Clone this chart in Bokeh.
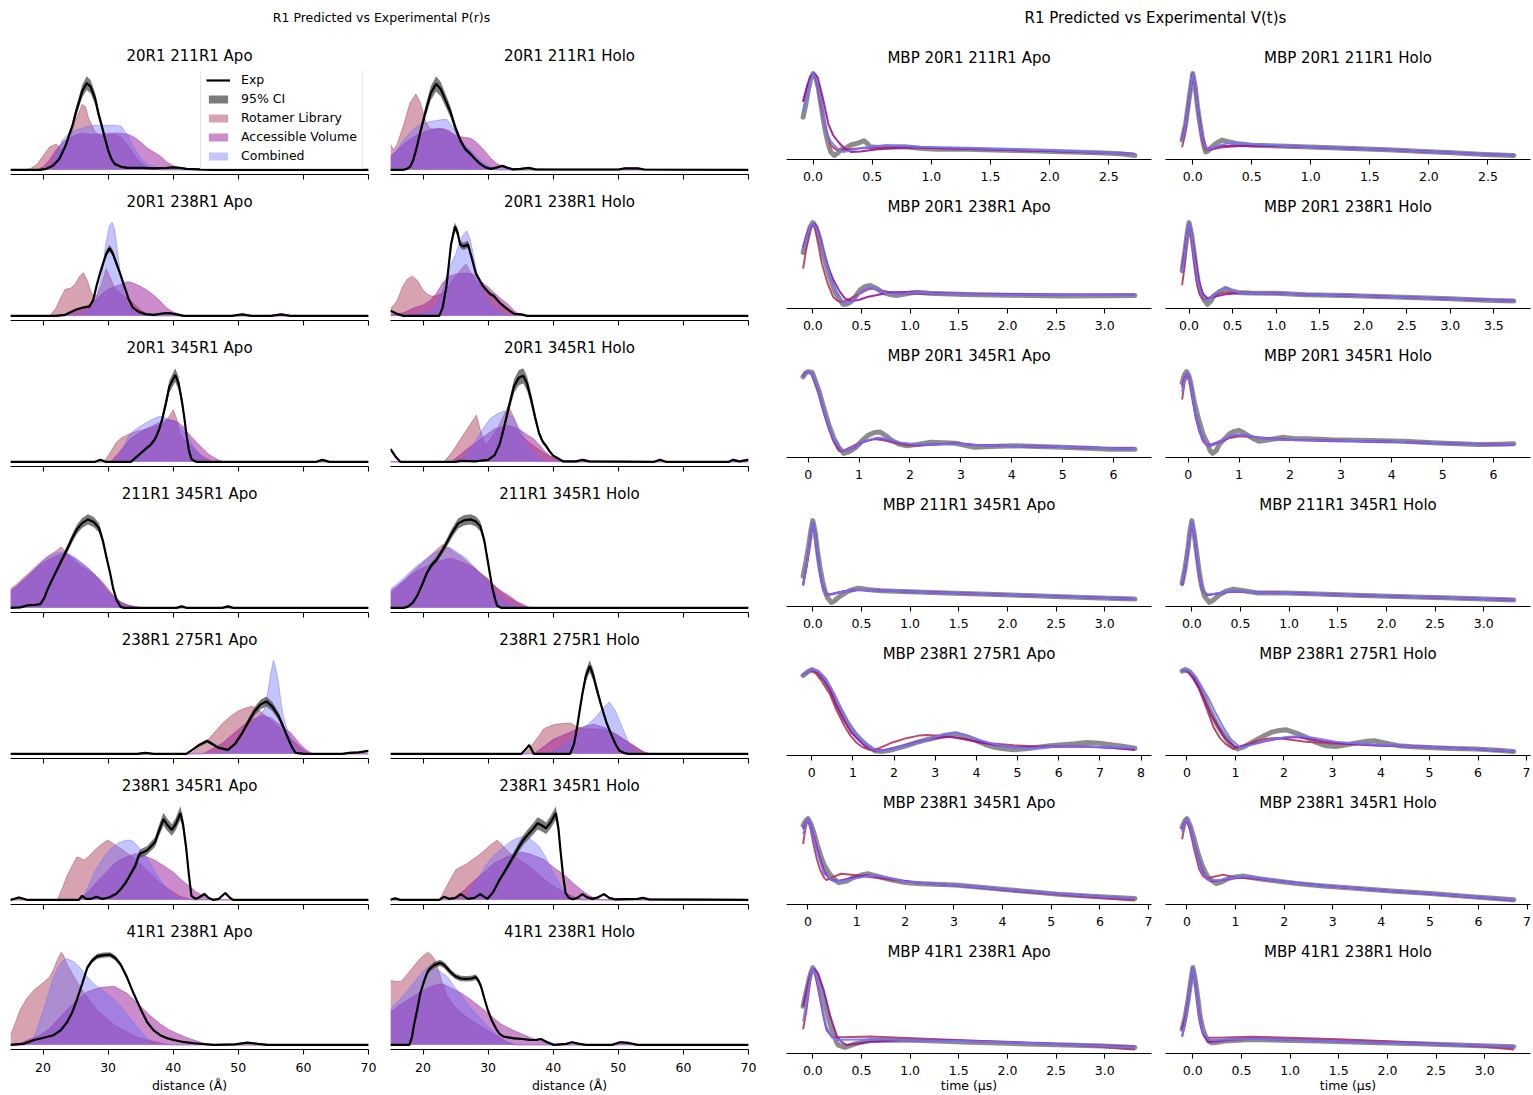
from bokeh.plotting import figure
from bokeh.layouts import row, column
from bokeh.models import Range1d, SingleIntervalTicker, PrintfTickFormatter, Legend, LegendItem
from bokeh.embed import file_html
from bokeh.resources import INLINE
from bokeh.core.properties import value

FONT = "DejaVu Sans"

# ---------------------------------------------------------------- titles / ticks
pr_titles = ["20R1 211R1 Apo", "20R1 211R1 Holo", "20R1 238R1 Apo", "20R1 238R1 Holo",
             "20R1 345R1 Apo", "20R1 345R1 Holo", "211R1 345R1 Apo", "211R1 345R1 Holo",
             "238R1 275R1 Apo", "238R1 275R1 Holo", "238R1 345R1 Apo", "238R1 345R1 Holo",
             "41R1 238R1 Apo", "41R1 238R1 Holo"]
vt_titles = ["MBP " + t for t in pr_titles]
vt_tick_step = [0.5, 0.5, 0.5, 0.5, 1, 1, 0.5, 0.5, 1, 1, 1, 1, 0.5, 0.5]
pr_ci = [0.07, 0.08, 0.04, 0.04, 0.07, 0.08, 0.05, 0.05, 0.08, 0.06, 0.07, 0.07, 0.02, 0.03]
pr_ticks_step = 10

# ---------------------------------------------------------------- P(r) data (distance A, density a.u.)
pr01_exp = [(15,0),(19.5,0),(20.5,1),(21.5,4),(22.5,11),(23.5,25),(24,35),(24.5,44),(25,57),(25.5,68),(26,79),(26.7,87.6),(27.3,84),(28,72),(28.5,57),(29,45),(29.5,32),(30,20),(30.5,11),(31,6),(32,3),(33,2),(35,2),(37,1.5),(39,2),(40,2.5),(41,2),(42,1),(44,0.5),(46,0),(70,0)]
pr01_rl = [(15,0),(17,0),(18,1),(19,5),(20,14),(21,23),(22,26),(23,20),(24,28),(25,50),(26,66),(26.5,64),(27,52),(28,38),(29,34),(30,35),(31,36),(32,33),(33,25),(34,15),(35,7),(36,3),(37,1),(38,0),(70,0)]
pr01_av = [(15,0),(19,0),(20,3),(21,10),(22,20),(23,28),(24,32),(25,35),(26,37),(27,36),(28,36),(29,36),(30,37),(31,37),(32,37),(33,36),(34,33),(35,28),(36,22),(37,18),(38,14),(39,8),(40,4),(41,2),(42,1.5),(43,1),(45,0),(70,0)]
pr01_cb = [(15,0),(20,0),(21,3),(22,15),(23,30),(24,37),(25,40),(26,42),(27,44),(28,45),(29,45),(30,45),(31,45),(32,44),(33,35),(34,22),(35,12),(36,6),(37,3),(38,1),(39,0),(70,0)]

pr02_exp = [(15,0),(17,0),(17.5,1),(18,3),(18.5,10),(19,22),(19.6,39),(20.5,62),(21.2,78),(22,87.3),(22.7,82),(23.5,70),(24.2,59),(25,42),(25.8,29),(26.5,21),(27.3,16),(28,11),(28.8,6),(29.6,2.5),(30.4,1),(31.4,2.5),(32.2,4),(33,2),(33.8,0.5),(35,1),(36.2,2),(37.3,0.5),(40,0.3),(50,0.3),(51,1.5),(53,1.5),(54,0.3),(70,0)]
pr02_rl = [(15,26),(15.5,20),(16,26),(17,45),(18,68),(18.9,77),(19.6,68),(20.4,49),(21,42),(22,41),(23,42),(24,40),(25,34),(26,25),(27,17),(28,10),(29,5),(30,2),(31,0),(70,0)]
pr02_av = [(15,14),(16,20),(17,26),(18,31),(19,35),(20,38),(21,40),(22,42),(22.7,42),(23.5,40),(24.5,37),(25.4,34),(26.3,33),(27.3,32),(28,29),(28.8,24),(29.6,18),(30.4,12),(31.2,7),(32,4),(33,1.5),(34,0),(70,0)]
pr02_cb = [(15,12),(16,20),(17,30),(18,38),(19,44),(20,47),(21,49),(22,50),(23,51),(23.7,51),(24.5,44),(25.2,36),(25.8,29),(26.5,24),(27.3,20),(28,15),(28.8,10),(29.6,6),(30.4,3),(31.4,0),(70,0)]

pr03_exp = [(15,0),(22,0),(23.4,1),(24.3,4),(25.2,6.7),(26.2,8.5),(27.1,9.3),(27.7,16),(28.2,30),(28.7,42),(29.2,53),(29.7,63),(30.2,69),(30.7,64),(31.3,53),(31.9,42),(32.5,30),(33.1,18),(33.8,8.3),(34.7,4),(35.7,1.7),(37,1),(38.5,2.5),(39.4,2.7),(40.5,1.5),(41.6,0),(49,0),(50.6,1.5),(52,0),(55,0),(56.6,1.5),(58,0),(70,0)]
pr03_rl = [(15,0),(20,0),(21.1,0.5),(22,8),(22.6,17),(23.4,27),(24.2,28),(24.9,32),(25.6,40),(26.2,44),(26.8,36),(27.5,22),(28.2,20),(28.9,30),(29.7,48),(30.4,38),(31,28),(32,22),(33,18),(34,12),(35,6),(36,2),(37,0),(70,0)]
pr03_av = [(15,0),(22,0),(23,1),(24,3),(25,5),(26,8),(27,11),(28,16),(29,22),(30,27),(31,30),(32,32),(33,35),(34,33),(35,30),(36,26),(37,21),(38,15),(39,8),(40,4),(41,1.5),(42,0),(70,0)]
pr03_cb = [(15,0),(25,0),(26,2),(27,5),(28,14),(29,40),(29.6,72),(30.2,92),(30.6,95.5),(31,88),(31.6,57),(32,38),(32.5,20),(33.2,9),(33.8,5),(35,1),(36,0),(70,0)]

pr04_exp = [(15,5),(16,2),(16.9,0),(22.5,0),(23,8),(23.6,30),(24.3,72),(24.9,90),(25.3,84),(25.7,72),(26.2,70),(26.9,72),(27.5,58),(28.1,43),(29.2,30),(30.3,22),(30.9,20),(31.8,13),(32.9,7),(34,2),(35.1,1.5),(36,0),(70,0)]
pr04_rl = [(15,7),(16,15),(16.9,30),(17.6,37),(18.4,40),(19.2,35),(19.9,27),(20.6,22),(21.3,20),(22,20),(23,23),(24,30),(25,40),(26,48),(26.6,52),(27.3,44),(28,36),(29,30),(30,25),(31,18),(32,12),(33,7),(34,3),(35,1),(36,0),(70,0)]
pr04_av = [(15,1),(17,3),(18,6),(19,9),(20,11),(21,15),(22,22),(23,33),(24,40),(25,42),(26,43),(27,43),(27.7,42),(28.5,38),(29.2,33),(30,29),(31,23),(32,17),(33,12),(34,5),(35,1),(36,0),(70,0)]
pr04_cb = [(15,0),(18,0),(19,1),(20,2),(21,4),(22,10),(23,25),(23.6,40),(24.3,52),(25,62),(25.5,72),(26,80),(26.7,85.7),(27.2,78),(27.7,63),(28.2,46),(28.8,30),(29.5,20),(30.3,13),(31,8),(31.8,4),(33,0),(70,0)]

pr05_exp = [(15,0),(28,0),(28.8,2),(29.6,0),(33.5,0),(34.2,4),(35.7,12.7),(36.5,17),(37.2,23),(37.8,32),(38.3,43),(38.9,60),(39.4,76),(40.3,87.7),(40.8,80),(41.3,62.7),(41.7,45),(42,29),(42.4,12),(42.8,2.7),(43.5,0),(62,0),(62.9,2),(64,0),(70,0)]
pr05_rl = [(15,0),(29.3,0),(30,6),(31.2,19),(32,24),(33.1,27.7),(34.5,31),(35.7,32.7),(37,35),(38.7,39),(39.4,46),(40,52.7),(40.5,44),(41,29),(41.7,22),(42.5,18),(43.5,11),(44.6,5),(46,0),(70,0)]
pr05_av = [(15,0),(30.4,0),(31.5,8),(32.5,16),(33.4,23),(34.5,28),(35.7,33),(37,37),(38,40),(39,43),(40.5,41),(41.5,36),(42.3,29),(43.1,23),(44.3,15),(45.4,8),(46.3,4),(47.2,1),(48,0),(70,0)]
pr05_cb = [(15,0),(31.2,0),(32,10),(32.7,20),(33.4,29),(34.5,34),(35.7,39),(36.8,43),(37.9,46),(39,44),(40,40),(40.9,36),(41.7,30),(42.4,23),(43.2,15),(43.9,9),(44.7,3),(45.5,0),(70,0)]

pr06_exp = [(15,12.7),(15.8,5),(16.5,0),(25,0),(25.8,1),(28,0.5),(30,2),(31,6.7),(31.8,18),(32.5,36),(33.3,58),(34,76),(34.7,84),(35.4,86),(36,78),(36.6,62.7),(37.2,45),(37.8,29),(38.4,20),(38.9,16),(39.4,11),(40,6),(41.5,0.5),(43.5,0.5),(44.5,2),(45.5,0.5),(55.5,0),(56.4,2),(57.3,0),(67,0),(67.6,2),(68.6,0.5),(69.9,2),(70,2)]
pr06_rl = [(15,0),(23.2,0),(24.5,10),(25.8,23),(27,35),(28.2,46.7),(28.8,32),(29.6,16),(30.5,24),(31.4,33),(32.3,45),(33.1,56),(33.9,45),(34.8,29),(35.8,22),(37,16),(38.5,9),(40,4),(41.5,0),(70,0)]
pr06_av = [(15,0),(24.3,0),(25.5,6),(26.8,13),(28.1,19),(29.5,26),(31,33),(32.2,35),(33.3,36),(34.2,34),(35.1,31),(36,27),(37,23),(38,16),(38.9,9),(39.7,5),(40.4,2),(41.5,0),(70,0)]
pr06_cb = [(15,0),(25.8,0),(26.8,8),(27.8,18),(28.8,29),(29.5,36),(30.3,43),(31.4,48),(32.5,51),(33.2,48),(34,43),(34.8,33),(35.5,23),(36.2,15),(37,9),(37.8,3),(38.5,0),(70,0)]

pr07_exp = [(15,0),(16.5,0.5),(17.8,2.7),(18.8,3),(19.6,3.7),(20.2,10),(20.7,18.7),(21.3,27),(21.9,35),(22.8,47),(23.7,58.7),(24.5,70),(25.2,78.7),(26,85),(26.9,88.7),(27.8,86),(28.6,80),(29.2,67),(29.7,52),(30.3,35),(30.8,18.7),(31.3,8),(31.9,1),(32.5,0),(40.5,0),(41.3,1.5),(42,0),(47.5,0),(48.4,1.5),(49.2,0),(70,0)]
pr07_rl = [(15,19),(16,24),(17,30),(18,36),(19,42),(20,48),(21,53),(22,57),(22.8,61),(23.4,57),(24,52),(25,46),(26,41),(27,37),(28,33),(29,27),(30,19),(31,11),(32,6),(33,3),(34,1.5),(35,0.5),(36,0),(70,0)]
pr07_av = [(15,17),(16,22),(17,28),(18,34),(19,40),(20,45),(21,49),(22,52),(23,54),(24,53),(25,49),(26,44),(27,39),(28,33),(29,25),(30,17),(31,10),(32,5),(33,2.5),(34,1),(35,0),(70,0)]
pr07_cb = [(15,16),(16,21),(17,27),(18,34),(19,41),(20,47),(21,52),(22,55),(23,56),(24,54),(25,50),(26,45),(27,40),(28,33),(29,25),(30,16),(31,9),(32,4),(33,1.5),(34,0.5),(35,0),(70,0)]

pr08_exp = [(15,0),(17,0),(17.6,1),(18.4,5),(19.1,12),(19.9,24),(20.6,35),(21.3,43),(22.1,48.7),(22.9,57),(23.6,65),(24.5,76),(25.4,85),(26.3,88),(27.3,89),(28.1,87),(28.8,82),(29.4,68),(29.9,48.7),(30.3,33),(30.7,18.7),(31.1,8),(31.4,2),(32,0),(70,0)]
pr08_rl = [(15,15),(16,20),(17,27),(18,34),(19,40),(19.9,45),(21,52),(22,58),(23,63.7),(24,60),(25,55),(25.8,52),(27,45),(28,40),(28.8,35),(30,29),(31,22),(31.8,17),(33,11),(34,7),(35,3),(35.5,1),(36.5,0),(70,0)]
pr08_av = [(15,17),(16,22),(17,27),(18,32),(19,37),(20.6,42),(22,46),(23,48),(24.3,50),(25.5,47),(27,43),(28.1,38.7),(29.5,31),(31,22),(32,17),(33.3,12),(34.5,6),(35.5,3),(36.5,0),(70,0)]
pr08_cb = [(15,18.7),(16,24),(17,30),(18,36),(19,42),(20,47),(21,52),(22,56),(23,59),(24,61),(25,57),(26.6,50),(28,40),(29.6,28.7),(30.5,20),(31.4,12),(32.5,7),(33.3,4),(34.5,1),(35.5,0),(70,0)]

pr09_exp = [(15,0),(34.5,0),(35.7,1),(37,0),(42,0),(43.1,4.7),(44,9),(45.2,13),(46,10),(46.9,6.3),(48.4,4),(49.5,10),(50.6,21),(51.5,32),(52.5,43),(53.4,50),(54.3,53),(55.2,48),(56.2,38),(57,26),(57.7,14.7),(58.3,6),(58.8,1),(60,0),(66,0),(67,1),(68.5,1.5),(70,3)]
pr09_rl = [(15,0),(42.5,0),(43.1,2),(44.2,8),(45.4,14.7),(46.5,23),(47.6,31),(48.8,38),(49.9,43),(51,46),(52.1,48),(53.2,44),(54.3,38),(55.5,31),(56.6,25),(57.7,18),(58.8,11),(60,4),(61,0),(70,0)]
pr09_av = [(15,0),(44.6,0),(46,5),(47.6,11),(49,19),(50.6,28),(52,34),(53.6,38.7),(55.1,36),(56.5,29),(58.1,21),(59.2,12),(60.3,4.7),(61.4,0),(70,0)]
pr09_cb = [(15,0),(46.9,0),(48.5,5),(49.9,11),(51,20),(52.1,31),(53.2,39),(54,44.7),(54.6,64.7),(55,82),(55.4,94.7),(55.8,85),(56.2,71),(56.5,55),(56.9,38),(57.5,25),(58.1,15),(58.8,7),(59.6,3),(60.5,0),(70,0)]

pr10_exp = [(15,0),(35.1,0),(35.7,4),(36.3,8.7),(36.7,4),(37,0),(42.6,0),(43.2,10),(43.7,28),(44.1,45),(44.5,61),(45,78),(45.6,88),(46.1,80),(46.7,64.7),(47.4,48),(48.2,31),(49,18),(49.7,8),(50.2,3),(50.8,1),(51.5,0),(70,0)]
pr10_rl = [(15,0),(35.5,0),(36.3,5),(37,11),(37.8,18),(38.5,25),(39.5,28),(40.4,29.7),(41.5,30.5),(42.6,31),(43.7,27),(45,25),(46.5,25),(48,24),(49.5,20),(51,14),(52.5,8),(53.5,3),(54.2,0),(70,0)]
pr10_av = [(15,0),(37,0),(38.5,7),(40,14.7),(42,20),(43.7,25),(45,28),(46.3,29.7),(48,26),(49.7,19.7),(51.2,13),(52.7,6.3),(54,2),(54.9,0),(70,0)]
pr10_cb = [(15,0),(39.3,0),(40.8,5),(42.2,11),(43.4,18),(44.5,25),(45.6,31),(46.7,38),(47.7,46),(48.6,52),(49.4,45),(50.1,34.7),(50.9,22),(51.6,11),(52.4,3),(53,0),(70,0)]

pr11_exp = [(15,0),(15.6,1),(16.3,2.3),(17,1),(17.5,0),(25.5,0),(26,4),(26.6,1),(27.4,1),(28.2,3),(28.8,1.5),(29.3,1),(30.2,2.5),(31.2,5.7),(32,11),(32.7,17),(33.5,26),(34.2,34),(34.6,42),(34.9,45.7),(35.4,47),(36,49),(36.6,53),(37.2,57),(37.8,68),(38.5,79.7),(39.1,74),(39.8,69),(40.4,75),(41.1,85.7),(41.5,75),(42,50.7),(42.4,25),(42.8,4),(43.4,1),(43.9,2),(44.8,5.7),(45.4,2),(46.1,0),(47,1),(48,6.7),(48.7,2),(49.2,0),(70,0)]
pr11_rl = [(15,0),(22.2,0),(23,12),(23.7,24),(24.5,34),(25.2,42.3),(25.8,41),(26.3,39),(27.2,44),(28.2,50.7),(29,55),(29.9,59),(30.7,56),(31.6,52),(32.5,48),(33.4,44),(34.5,38),(35.7,30.7),(36.8,24),(37.9,17),(39,12),(40.1,7),(41.2,3),(42.4,1),(43,0),(70,0)]
pr11_av = [(15,0),(25.2,0),(26.5,5),(28.2,17),(29.7,27),(31.2,37),(32.7,42),(34.2,45.7),(35.7,43),(37.2,39),(38.7,33),(40.1,27),(41.2,20),(42.4,14),(43.5,8),(44.6,4),(45.5,1),(46.5,0),(70,0)]
pr11_cb = [(15,0),(26,0),(27,14),(28.2,30.7),(29.3,42),(30.4,50.7),(31.5,56),(32.3,58),(33.1,59),(33.8,58),(34.7,52),(35.7,44),(36.8,32),(37.9,20.7),(39,11),(40.1,4),(41,1),(41.5,0),(70,0)]

pr12_exp = [(15,0),(15.7,1.5),(16.5,0),(22.5,0),(23.2,3),(24,1),(25,2),(25.8,5.7),(26.4,3),(26.9,1),(27.9,2),(28.8,5.7),(29.4,3),(29.9,1),(30.8,8),(31.8,20.7),(32.5,28),(33.3,37),(34,45),(34.8,54),(35.5,61),(36.3,67),(37,72),(37.6,77),(38.2,75),(38.9,72),(39.6,78),(40.4,87.3),(40.8,72),(41.1,50.7),(41.5,25),(41.9,7),(42.4,2),(43,0.5),(43.7,2),(44.5,5.7),(45.2,2.5),(46,1),(46.9,2.5),(47.8,5.7),(48.6,2),(49.5,0.5),(53,1),(53.8,2),(54.7,0.5),(70,0)]
pr12_rl = [(15,0),(22.5,0),(23.5,12),(24.3,22),(25.1,30.7),(25.8,33),(26.6,35.7),(27.5,40),(28.4,44),(29.5,50),(30.5,56),(31.4,60),(32.3,54),(33.3,47),(34.8,40),(36.3,34),(37.8,25),(39.3,17),(40.7,11),(42.2,5.7),(43.5,2),(44.5,0),(70,0)]
pr12_av = [(15,0),(24.3,0),(26.2,9),(28.1,20.7),(29.6,29),(31,37),(32.5,42),(34,46),(35.1,48),(36.5,46),(38.5,40.7),(40.2,32),(41.9,24),(43.2,16),(44.5,9),(45.6,4),(46.7,1),(47.5,0),(70,0)]
pr12_cb = [(15,0),(26.6,0),(27.5,10),(28.5,22),(29.6,34),(30.5,42),(31.5,48),(32.5,54),(33.5,59),(34.5,62),(35.5,64),(36.5,61),(37.8,54),(38.9,42),(40,27),(41,15),(41.9,7),(42.8,2),(43.5,0),(70,0)]

pr13_exp = [(15,0),(17,1),(18.6,5),(20.1,7.4),(21.6,10),(22.7,15),(23.7,23.4),(24.5,34),(25.2,46.7),(26,63),(26.8,80),(27.5,87),(28.3,91.7),(29.3,93),(30.3,93.4),(31.1,90),(31.9,83.4),(32.9,70),(33.9,53.4),(35,37),(36,23.4),(37,15),(38,10),(39,7),(40.1,5),(41.5,3),(43.2,1.7),(46.2,0),(49.5,0.5),(51.4,2.4),(53,1),(54.5,0),(70,0)]
pr13_rl = [(15,10),(15.7,22),(16.5,36.7),(17.5,48),(18.6,56.7),(19.4,61),(20.1,65),(21,70),(21.6,78),(22.2,88),(22.8,96),(23.2,92),(23.7,83),(24.7,71),(25.7,60),(26.7,50),(27.8,40),(28.8,33),(29.8,26.7),(31.3,19),(32.9,13.4),(34.5,8),(36,5),(38,2),(39.5,0),(70,0)]
pr13_av = [(15,0),(16.5,2),(18,6),(19.6,10),(21,17),(22.4,27),(23.7,36.7),(25.2,46),(26.8,55),(28.8,59.4),(30.9,60.7),(32.9,53.4),(35,40),(36.5,30),(38,21.7),(39.3,16),(40.6,11.7),(41.9,8),(43.2,5),(44.5,2),(45.7,0),(70,0)]
pr13_cb = [(15,0),(18,0),(19,14),(20.1,36.7),(20.8,52),(21.6,70),(22.3,80),(23,87),(23.7,89.4),(24.7,86),(25.7,80),(26.7,71),(27.8,63.4),(28.8,58),(29.8,53.4),(30.9,47),(31.9,40),(32.9,32),(33.9,23.4),(35,14),(36,6.7),(37,2),(37.7,0),(70,0)]

pr14_exp = [(15,0),(17.9,0),(18.3,8),(18.6,20),(19.1,36),(19.6,53.4),(20.2,66),(20.7,75),(21.2,79),(21.7,81.7),(22.6,84),(23.2,82),(23.7,78.4),(24.3,74),(25,70),(25.8,68),(26.6,67.7),(27.4,68),(28.1,69.4),(28.5,66),(28.9,60),(29.4,48),(29.9,36.7),(30.5,26),(31.2,16.7),(31.8,11),(32.4,8.4),(34,6.7),(35.3,6),(36.5,5),(37.3,5),(38.1,6),(39,3),(40.1,0),(42,1),(42.9,2.7),(44,1),(45,0),(49,0),(50.3,2.7),(51.5,2),(53,0),(70,0)]
pr14_rl = [(15,66),(15.8,65),(16.6,65),(17.3,70),(18.1,76.7),(19,84),(19.8,90),(20.7,95),(21.3,92),(21.9,86.7),(22.5,74),(23,62),(23.7,50),(24.7,40),(25.8,33.4),(26.8,28),(27.8,23.4),(28.9,19),(29.9,15),(30.9,11),(31.9,6.7),(33,2),(34,0),(70,0)]
pr14_av = [(15,33.4),(16.2,40),(17.4,45),(18.6,50),(19.8,55),(21,59),(22,61.5),(23,62.7),(24.4,58),(25.8,53.4),(27.4,46),(28.9,38.4),(30.4,30),(31.9,21.7),(33.5,16),(35,11.7),(36.3,8),(37.6,5),(38.9,2),(40.1,0.5),(41,0),(49.5,0),(50.9,1.5),(52.5,0),(70,0)]
pr14_cb = [(15,36.7),(16.2,45),(17.4,54),(18.6,63.4),(19.6,72),(20.4,78),(21.2,80.7),(22.4,76),(23.7,70),(25,58),(26.3,46.7),(27.6,36),(28.9,26.7),(30.1,18),(31.4,10),(32.5,5),(33.5,2),(34.5,0),(70,0)]

# ---------------------------------------------------------------- V(t) data (time us, signal a.u.)
vt01_exp = [(-0.084,42.3),(-0.06,55),(-0.04,68),(-0.02,79),(0,84),(0.02,81),(0.045,70),(0.07,52),(0.09,38),(0.11,25.7),(0.13,16),(0.15,9),(0.18,5.7),(0.21,8),(0.23,10.7),(0.28,13),(0.32,15.7),(0.38,17.5),(0.43,19.7),(0.46,17),(0.48,14),(0.57,13),(0.65,13.5),(0.77,14),(0.9,12.5),(1.05,11.7),(1.3,11.5),(1.62,10.7),(1.9,10),(2.18,9),(2.4,8.2),(2.6,7.3),(2.72,5.7)]
vt01_rl = [(-0.084,57),(-0.05,72),(-0.02,81),(0,84),(0.03,77),(0.07,52),(0.11,30),(0.15,15.7),(0.19,11.5),(0.22,10.7),(0.3,11.5),(0.4,12.5),(0.48,13),(0.6,13.2),(0.75,13.2),(0.9,13),(1.2,12),(1.6,11),(2.0,9.8),(2.4,8.5),(2.72,7.3)]
vt01_av = [(-0.084,57),(-0.05,72),(-0.02,81),(0.01,84),(0.04,80),(0.08,62),(0.13,35.7),(0.17,25),(0.21,19),(0.26,13),(0.32,9),(0.4,9.5),(0.48,10.7),(0.6,12.2),(0.77,13.3),(0.9,13.2),(1.2,12.3),(1.6,11),(2.0,9.8),(2.4,8.5),(2.72,7)]
vt01_cb = [(-0.084,47),(-0.05,64),(-0.02,78),(0,84),(0.03,79),(0.07,56),(0.11,29),(0.15,19),(0.21,12),(0.25,9),(0.3,10),(0.4,12.5),(0.48,14),(0.62,15.7),(0.75,15),(0.9,14),(1.2,13),(1.62,11.7),(2.0,10.3),(2.4,8.7),(2.72,7)]

vt02_exp = [(-0.09,19),(-0.06,35),(-0.03,60),(0,84),(0.02,72),(0.04,52),(0.06,36),(0.08,22),(0.095,13),(0.11,7.3),(0.13,8.5),(0.16,12),(0.2,16),(0.25,19),(0.3,17.5),(0.37,15.7),(0.5,14),(0.79,13),(1.05,12),(1.35,10.7),(1.65,9.5),(1.91,8),(2.2,6.5),(2.47,5),(2.72,4)]
vt02_rl = [(-0.09,12),(-0.06,28),(-0.03,56),(0,84),(0.02,70),(0.05,40),(0.08,18),(0.11,9),(0.15,9.5),(0.25,12),(0.37,13),(0.5,13.5),(0.79,13),(1.05,12),(1.35,10.7),(1.65,9.5),(1.91,8),(2.2,6.7),(2.47,5.2),(2.72,4.2)]
vt02_av = [(-0.09,19),(-0.06,35),(-0.03,60),(0,84),(0.02,73),(0.05,45),(0.08,22),(0.12,10.7),(0.16,11),(0.25,13.3),(0.37,13.5),(0.5,13.5),(0.79,13),(1.05,12),(1.35,10.7),(1.65,9.5),(1.91,8),(2.2,6.7),(2.47,5.2),(2.72,4.2)]
vt02_cb = [(-0.09,17),(-0.06,33),(-0.03,58),(0,84),(0.02,72),(0.05,42),(0.08,20),(0.12,9.7),(0.17,11.5),(0.24,14.5),(0.31,16),(0.4,15.5),(0.5,15),(0.79,13.3),(1.05,12),(1.35,10.7),(1.65,9.5),(1.91,8),(2.2,6.7),(2.47,5.2),(2.72,4.2)]

vt03_exp = [(-0.1,56),(-0.06,70),(-0.03,80),(0,84.8),(0.03,81),(0.07,70),(0.11,53.8),(0.15,40),(0.19,27.6),(0.23,18),(0.26,13.3),(0.31,6.2),(0.35,6.5),(0.39,8.6),(0.44,14),(0.49,20.5),(0.54,23.5),(0.59,24.3),(0.65,22),(0.71,18),(0.78,16),(0.86,14.8),(0.96,16.5),(1.06,18),(1.2,17),(1.56,15.7),(2.0,15),(2.56,14.3),(3.0,14.5),(3.31,14.8)]
vt03_rl = [(-0.1,40.5),(-0.07,58),(-0.03,76),(-0.01,83),(0.02,80),(0.06,62),(0.09,46.7),(0.15,27),(0.21,13.3),(0.25,10),(0.29,8.6),(0.35,10),(0.45,15),(0.56,20.5),(0.61,21.4),(0.7,19.5),(0.86,16.7),(1.1,16.2),(1.5,16),(2.0,15.7),(2.5,15.5),(3.31,15.5)]
vt03_av = [(-0.1,61),(-0.06,74),(-0.02,82),(0.015,84),(0.05,79),(0.1,60),(0.15,44),(0.21,30),(0.28,18),(0.33,12),(0.39,9.5),(0.47,10.5),(0.56,13.3),(0.7,16),(0.81,18),(0.95,18.2),(1.06,18),(1.3,17),(1.7,16.3),(2.2,15.8),(2.8,15.5),(3.31,15.3)]
vt03_cb = [(-0.1,58.6),(-0.06,72),(-0.02,82),(0,84),(0.04,79),(0.09,62),(0.14,45),(0.19,30),(0.24,19),(0.29,11),(0.34,6.2),(0.4,9),(0.45,13),(0.49,18),(0.54,21.5),(0.59,22.9),(0.65,21),(0.76,16.7),(0.9,16.5),(1.06,17.6),(1.3,16.5),(1.8,15.8),(2.4,15.4),(3.31,15)]

vt04_exp = [(-0.08,37),(-0.05,55),(-0.02,75),(0,84.8),(0.03,73),(0.06,53.8),(0.085,37),(0.11,22.9),(0.14,14),(0.17,8.6),(0.21,3.8),(0.25,7),(0.28,11.9),(0.34,16),(0.42,19.5),(0.48,17.5),(0.56,15.7),(0.7,15.2),(1.0,14.8),(1.34,13.3),(1.8,12.5),(2.46,11),(3.0,9.3),(3.4,8),(3.73,7.1)]
vt04_rl = [(-0.08,22.9),(-0.05,42),(-0.02,70),(0,83),(0.03,68),(0.06,44),(0.09,25),(0.12,14),(0.17,8.6),(0.22,10),(0.3,13.5),(0.42,15.7),(0.6,15.5),(1.0,14.8),(1.34,13.5),(1.8,12.5),(2.46,11),(3.0,9.5),(3.4,8.3),(3.73,7.3)]
vt04_av = [(-0.08,39.5),(-0.05,57),(-0.02,76),(0,84),(0.03,73),(0.07,50),(0.11,28),(0.16,14),(0.22,9.5),(0.3,11.5),(0.42,13.8),(0.56,14.8),(0.8,14.8),(1.0,14.6),(1.34,13.5),(1.8,12.5),(2.46,11),(3.0,9.5),(3.4,8.3),(3.73,7.3)]
vt04_cb = [(-0.08,34.8),(-0.05,53),(-0.02,74),(0,84),(0.03,72),(0.06,50),(0.1,27),(0.14,14),(0.2,7.6),(0.26,11),(0.33,16),(0.42,20.5),(0.5,17.5),(0.59,14.8),(0.8,14.8),(1.0,14.6),(1.34,13.5),(1.8,12.5),(2.46,11),(3.0,9.5),(3.4,8.3),(3.73,7.3)]

vt05_exp = [(-0.1,80),(-0.05,83.5),(0,84.8),(0.08,84),(0.15,75),(0.22,65.7),(0.3,52),(0.41,34.8),(0.5,23),(0.6,14.3),(0.7,8.6),(0.8,10),(0.94,14.3),(1.05,20),(1.17,25.2),(1.3,28),(1.41,28.6),(1.53,25),(1.65,20.5),(1.8,17),(1.94,15.7),(2.15,17),(2.41,19),(2.65,18.5),(2.89,18),(3.1,16),(3.27,14.3),(3.6,15),(4.04,15.7),(4.5,15),(4.99,14.3),(5.5,13.5),(5.94,12.4),(6.42,12.4)]
vt05_rl = [(-0.1,80),(-0.05,83.5),(0.01,84.5),(0.08,82),(0.15,73),(0.22,63.3),(0.32,45),(0.41,32.4),(0.5,20),(0.6,11),(0.7,11.5),(0.89,15.7),(1.05,19),(1.27,21.9),(1.45,21),(1.65,19),(1.9,16.5),(2.13,15.7),(2.5,17),(2.89,18),(3.3,16.5),(4.0,15.5),(5.0,14.5),(6.0,13.5),(6.42,13)]
vt05_av = [(-0.1,80),(-0.05,83.5),(0.01,84.5),(0.08,82),(0.15,74),(0.22,64),(0.32,46),(0.41,33),(0.5,21.5),(0.65,11),(0.75,11.5),(0.9,14),(1.1,19.5),(1.36,22.9),(1.55,21.5),(1.8,18.5),(2.1,16.5),(2.5,17),(2.9,17.8),(3.3,16.5),(4.0,15.5),(5.0,14.5),(6.0,13.5),(6.42,13)]
vt05_cb = [(-0.1,79),(-0.05,83),(0.01,84.5),(0.08,82),(0.15,74.5),(0.22,64.5),(0.32,46.5),(0.41,33.5),(0.5,22),(0.65,11.5),(0.75,11.8),(0.9,14.5),(1.1,20),(1.36,23.2),(1.55,22),(1.8,18.8),(2.1,16.8),(2.5,17),(2.9,17.6),(3.3,16.5),(4.0,15.5),(5.0,14.5),(6.0,13.3),(6.42,12.8)]

vt06_exp = [(-0.12,75),(-0.07,83),(-0.03,85.7),(0.01,82),(0.05,75),(0.12,56),(0.19,42),(0.29,25),(0.38,15.7),(0.43,9),(0.48,6.2),(0.55,9),(0.62,15.7),(0.71,20),(0.81,25.2),(0.9,27.5),(1.0,28.6),(1.1,26),(1.2,22.9),(1.3,20),(1.39,18),(1.6,19.5),(1.86,21.9),(2.1,20.5),(2.34,20.5),(2.8,19.5),(3.3,19),(3.8,18.5),(4.25,18),(4.8,16.5),(5.3,15.5),(5.69,14.8),(6.1,15.2),(6.4,15.7)]
vt06_rl = [(-0.12,58.6),(-0.07,75),(-0.02,82),(0.02,80),(0.07,65),(0.14,42),(0.22,27),(0.29,18),(0.36,14.3),(0.45,15),(0.62,18),(0.8,21),(1.0,22.9),(1.2,22.5),(1.39,21.9),(1.7,20.5),(2.0,19.5),(2.34,19),(3.0,18.5),(4.0,17.5),(5.0,16),(6.0,14.8),(6.4,14.3)]
vt06_av = [(-0.12,70),(-0.07,80),(-0.02,84),(0.02,81),(0.07,68),(0.14,45),(0.22,29),(0.3,19),(0.38,13.3),(0.48,14),(0.62,17.5),(0.8,22),(0.96,24.3),(1.15,23.5),(1.39,21.5),(1.7,20),(2.0,19.3),(2.5,19),(3.0,18.5),(4.0,17.5),(5.0,16),(6.0,14.8),(6.4,14.5)]
vt06_cb = [(-0.12,66),(-0.07,78),(-0.02,84),(0.02,81),(0.07,67),(0.14,44),(0.22,28),(0.3,18.5),(0.38,13.5),(0.48,14.5),(0.62,18),(0.8,22.5),(0.96,24.5),(1.15,23.5),(1.39,21.5),(1.7,20),(2.0,19.3),(2.5,19),(3.0,18.5),(4.0,17.5),(5.0,16),(6.0,14.8),(6.4,14.5)]

vt07_exp = [(-0.1,30),(-0.07,45),(-0.04,62),(-0.02,76),(0,85.7),(0.025,74),(0.05,53.8),(0.075,38),(0.1,25.2),(0.125,15),(0.15,8.6),(0.19,3.8),(0.22,5),(0.26,8.6),(0.31,12),(0.36,14.8),(0.41,16.5),(0.46,18),(0.51,17.5),(0.56,16.7),(0.7,15.5),(1.06,14.3),(1.45,13),(1.81,11.9),(2.2,10.7),(2.56,9.5),(2.95,8.2),(3.31,7.1)]
vt07_rl = [(-0.1,20.5),(-0.07,36),(-0.04,56),(-0.02,72),(0,84),(0.025,72),(0.05,50),(0.075,32),(0.1,19),(0.14,11),(0.2,12),(0.31,14.8),(0.45,16.2),(0.56,16.5),(0.7,15.8),(1.06,14.5),(1.45,13.2),(1.81,12),(2.2,10.8),(2.56,9.6),(2.95,8.4),(3.31,7.3)]
vt07_av = [(-0.1,22),(-0.07,38),(-0.04,57),(-0.02,73),(0,84),(0.025,72.5),(0.05,51),(0.075,33),(0.1,20),(0.14,12),(0.2,12.5),(0.31,14.8),(0.45,16),(0.56,16.2),(0.7,15.8),(1.06,14.5),(1.45,13.2),(1.81,12),(2.2,10.8),(2.56,9.6),(2.95,8.4),(3.31,7.3)]
vt07_cb = [(-0.1,21),(-0.07,37),(-0.04,56.5),(-0.02,72.5),(0,84),(0.025,72),(0.05,50.5),(0.075,32.5),(0.1,19.5),(0.14,11.5),(0.2,12.2),(0.31,14.8),(0.45,16.1),(0.56,16.3),(0.7,15.8),(1.06,14.5),(1.45,13.2),(1.81,12),(2.2,10.8),(2.56,9.6),(2.95,8.4),(3.31,7.3)]

vt08_exp = [(-0.1,22.9),(-0.07,38),(-0.04,58),(-0.02,75),(0,85.7),(0.025,72),(0.05,53.8),(0.075,35),(0.1,20.5),(0.13,10),(0.18,3.8),(0.22,6),(0.28,11),(0.35,15),(0.43,17.1),(0.5,16),(0.68,13.3),(0.98,13.3),(1.3,12.2),(1.68,11),(2.2,9.5),(2.68,8.1),(3.0,7.2),(3.31,6.2)]
vt08_rl = [(-0.1,20.5),(-0.07,36),(-0.04,56),(-0.02,72),(0,84),(0.025,71),(0.05,49),(0.08,28),(0.11,16),(0.16,11),(0.25,12.5),(0.35,14.3),(0.43,14.8),(0.6,14.3),(0.98,13.3),(1.3,12.2),(1.68,11),(2.2,9.5),(2.68,8.1),(3.0,7.2),(3.31,6.4)]
vt08_av = [(-0.1,21),(-0.07,37),(-0.04,57),(-0.02,73),(0,84),(0.025,71.5),(0.05,50),(0.08,29),(0.11,16.5),(0.16,11.2),(0.25,12.6),(0.35,14.3),(0.43,14.8),(0.6,14.3),(0.98,13.3),(1.3,12.2),(1.68,11),(2.2,9.5),(2.68,8.1),(3.0,7.2),(3.31,6.4)]
vt08_cb = [(-0.1,21.5),(-0.07,37.5),(-0.04,57),(-0.02,73),(0,84),(0.025,71.5),(0.05,50),(0.08,29),(0.11,16.5),(0.16,11.5),(0.25,12.8),(0.35,14.4),(0.43,14.9),(0.6,14.3),(0.98,13.3),(1.3,12.2),(1.68,11),(2.2,9.5),(2.68,8.1),(3.0,7.2),(3.31,6.4)]

vt09_exp = [(-0.21,79),(-0.1,82.5),(0,84.8),(0.14,82.4),(0.32,75),(0.44,66),(0.55,56),(0.67,46),(0.79,37),(0.94,28),(1.08,20.5),(1.2,15.5),(1.32,11),(1.44,7.5),(1.55,4.8),(1.73,4.5),(1.96,6.2),(2.25,9.5),(2.55,13.3),(2.8,16),(3.02,18),(3.25,20.5),(3.49,21.9),(3.72,19.5),(3.96,15.7),(4.2,11.5),(4.44,8.6),(4.67,7),(4.9,6.2),(5.2,7),(5.49,8.6),(5.8,10),(6.08,11),(6.4,12),(6.67,13.3),(7.0,12.5),(7.26,11),(7.55,9.5),(7.85,7.6)]
vt09_rl = [(-0.21,79),(-0.1,82.5),(-0.03,83.8),(0.1,81),(0.25,73),(0.44,61),(0.6,45),(0.79,30),(0.94,20),(1.08,13.3),(1.22,9),(1.38,6.2),(1.6,7),(1.96,13.3),(2.3,17.5),(2.6,20),(2.79,20.5),(3.1,19.8),(3.49,18),(3.9,15),(4.32,12.4),(4.9,10.5),(5.49,9.5),(6.08,9.3),(6.67,9.5),(7.26,8),(7.85,6.2)]
vt09_av = [(-0.21,79),(-0.1,82.5),(0,84.5),(0.14,82),(0.3,74),(0.44,65.7),(0.6,50),(0.79,34.8),(0.96,23),(1.14,15.7),(1.3,9.5),(1.55,4.8),(1.8,6),(2.08,8.6),(2.5,13),(2.91,17.1),(3.38,19),(3.7,17),(4.08,13.3),(4.5,10.5),(4.9,8.6),(5.5,8.8),(6.08,9.5),(6.67,9),(7.26,8),(7.85,6.2)]
vt09_cb = [(-0.21,79),(-0.1,82.5),(0.02,84.8),(0.16,83),(0.35,74),(0.55,61),(0.73,46),(0.91,32.4),(1.08,21),(1.26,13.3),(1.43,8),(1.61,4.8),(1.9,6.5),(2.2,9.5),(2.6,13.5),(2.95,18),(3.2,21),(3.49,22.9),(3.8,20),(4.08,15.7),(4.4,12),(4.67,9.5),(5.0,8),(5.26,7.6),(5.7,8.5),(6.08,9.5),(6.67,9),(7.26,8.6),(7.85,7.6)]

vt10_exp = [(-0.1,83.3),(-0.03,84.8),(0.05,83),(0.15,77.6),(0.25,69),(0.35,58.6),(0.45,47),(0.55,37),(0.65,28),(0.75,20.5),(0.85,14),(0.95,8.6),(1.05,6.2),(1.2,9),(1.45,15.7),(1.6,19.5),(1.75,22.9),(1.9,24.5),(2.05,25.2),(2.25,22),(2.45,18),(2.65,13),(2.86,9.5),(3.06,8.6),(3.26,10),(3.46,11.9),(3.66,13.5),(3.86,14.3),(4.1,12),(4.36,9.5),(4.66,8.3),(4.96,7.6),(5.46,6.8),(5.96,6.2),(6.4,5),(6.74,3.8)]
vt10_rl = [(-0.1,83.3),(-0.03,84.5),(0.05,81),(0.15,74),(0.25,65.7),(0.4,47),(0.55,27.6),(0.68,17),(0.8,11),(0.95,6.2),(1.2,10),(1.45,14.3),(1.65,16.3),(1.85,17.1),(2.1,15.5),(2.45,13.3),(2.9,12),(3.46,11),(3.96,10.2),(4.46,9.5),(5.0,8.5),(5.5,7.3),(6.0,6),(6.4,4.8),(6.74,3.8)]
vt10_av = [(-0.1,83.3),(-0.03,84.5),(0.05,82),(0.15,76),(0.25,67),(0.35,56),(0.5,40),(0.65,27.6),(0.8,16),(1.0,7.6),(1.3,10.5),(1.65,14.3),(1.95,16.8),(2.25,18),(2.55,16),(2.86,13.3),(3.3,11.5),(3.96,9.5),(4.5,8.8),(5.0,8.2),(5.5,7.2),(6.0,6),(6.4,4.8),(6.74,4)]
vt10_cb = [(-0.1,83.3),(-0.02,84.8),(0.06,83),(0.17,78),(0.3,68),(0.45,56),(0.6,41),(0.75,27.6),(0.9,16),(1.1,7.6),(1.4,11),(1.75,15.7),(2.05,18),(2.35,19),(2.7,16.5),(3.06,13.3),(3.5,11.7),(3.96,10.5),(4.5,9.2),(5.0,8.3),(5.5,7.2),(6.0,6),(6.4,4.8),(6.74,4)]

vt11_exp = [(-0.1,77.6),(-0.05,82),(0,84.3),(0.06,79),(0.13,69),(0.2,57),(0.28,45),(0.35,37),(0.43,31),(0.53,25),(0.63,21.4),(0.78,22.5),(0.93,26.2),(1.08,28.5),(1.23,30),(1.4,28),(1.73,23.8),(2.0,21.5),(2.23,20.5),(2.6,19.8),(3.03,19),(3.6,16.5),(4.23,13.8),(4.7,11.8),(5.22,9.5),(6.0,7.5),(6.72,5.7)]
vt11_rl = [(-0.1,59.5),(-0.06,72),(-0.02,81),(0,83.3),(0.05,75),(0.11,60),(0.18,45),(0.25,34),(0.33,26.2),(0.38,23.8),(0.5,26.5),(0.68,30),(0.9,29),(1.23,27.1),(1.7,24),(2.23,21.4),(2.8,19.3),(3.5,16.5),(4.23,12.9),(5.0,10),(5.8,7),(6.72,3.8)]
vt11_av = [(-0.1,73.8),(-0.05,80),(0,84),(0.06,78),(0.14,63),(0.23,47.6),(0.33,33),(0.43,25.5),(0.48,23.8),(0.63,22.9),(0.85,25.5),(1.05,27.8),(1.23,28.6),(1.5,26.5),(1.9,23.5),(2.23,21.4),(2.8,19.5),(3.5,16.8),(4.23,13.8),(5.0,10.8),(5.8,8.2),(6.72,5.5)]
vt11_cb = [(-0.1,69),(-0.05,78),(0,84),(0.06,77),(0.13,62),(0.23,45),(0.33,30),(0.43,26.2),(0.53,22.4),(0.75,23.5),(1.03,26.2),(1.25,27.8),(1.43,28.1),(1.7,25.5),(2.0,22.5),(2.4,21),(2.8,19.5),(3.5,16.8),(4.23,13.8),(5.0,10.8),(5.8,8.2),(6.72,5.7)]

vt12_exp = [(-0.1,76),(-0.05,81.5),(0,84.3),(0.07,77),(0.15,64.3),(0.22,52),(0.3,40.5),(0.38,32),(0.45,26.2),(0.6,21.4),(0.72,23),(0.85,26.2),(1.0,27.8),(1.15,28.6),(1.3,27.5),(1.45,26.2),(1.8,24),(2.25,21.4),(2.8,19),(3.45,16.7),(4.2,14.2),(4.95,11.9),(5.8,8.8),(6.73,5.7)]
vt12_rl = [(-0.1,64.3),(-0.06,74),(-0.02,81.5),(0,82.8),(0.06,74),(0.15,54),(0.25,35.7),(0.33,28.5),(0.4,26.2),(0.55,28),(0.75,30),(1.0,27.1),(1.45,25.8),(1.8,24),(2.25,21.8),(2.8,19.3),(3.45,16.8),(4.2,14.2),(4.95,11.6),(5.8,8.5),(6.73,5)]
vt12_av = [(-0.1,73.8),(-0.05,80),(0,84),(0.07,76),(0.15,60),(0.3,35.7),(0.4,26.5),(0.5,23.8),(0.7,24.5),(0.95,26.8),(1.15,27.6),(1.45,26.5),(1.8,24.2),(2.25,21.8),(2.8,19.3),(3.45,16.8),(4.2,14.2),(4.95,11.8),(5.8,8.7),(6.73,5.5)]
vt12_cb = [(-0.1,71),(-0.05,79),(0,84),(0.07,76),(0.15,59),(0.3,34),(0.4,26),(0.45,24.8),(0.65,24.5),(0.9,26.8),(1.15,28.2),(1.45,26.8),(1.8,24.3),(2.25,21.8),(2.8,19.3),(3.45,16.8),(4.2,14.2),(4.95,11.8),(5.8,8.7),(6.73,5.5)]

vt13_exp = [(-0.1,46.7),(-0.07,60),(-0.04,73),(-0.02,80),(0,85),(0.04,78),(0.075,66.7),(0.11,55),(0.14,43.3),(0.175,30),(0.21,20),(0.24,12),(0.26,8.3),(0.33,6),(0.39,8),(0.45,10),(0.59,12.7),(0.93,13.3),(1.27,12.2),(1.61,11),(2.0,10),(2.3,9),(2.7,8),(2.98,7.3),(3.31,6)]
vt13_rl = [(-0.1,24),(-0.07,40),(-0.04,62),(-0.02,76),(-0.01,83.3),(0.02,80),(0.05,66),(0.075,53.3),(0.11,36),(0.14,23.3),(0.2,16),(0.31,16),(0.59,16.7),(0.9,15.5),(1.27,14),(1.8,12),(2.3,10),(2.8,7.5),(3.31,4)]
vt13_av = [(-0.1,46.7),(-0.07,60),(-0.04,73),(-0.02,80),(0.01,84),(0.05,80),(0.11,63.3),(0.15,48),(0.18,36.7),(0.22,25),(0.25,16.7),(0.3,11),(0.35,8.3),(0.45,9.5),(0.59,11.7),(0.9,13),(1.27,13.3),(1.8,11.7),(2.3,10),(2.8,8.3),(3.31,6.7)]
vt13_cb = [(-0.1,31.7),(-0.07,48),(-0.04,66),(-0.02,78),(0,84),(0.04,76),(0.075,58.3),(0.11,40),(0.14,26.7),(0.2,16),(0.25,13.3),(0.35,13.6),(0.59,14),(1.0,13.3),(1.61,12),(2.3,10),(2.8,8.2),(3.31,6)]

vt14_exp = [(-0.11,23.3),(-0.08,35),(-0.05,52),(-0.02,72),(0,85),(0.02,76),(0.04,63.3),(0.06,48),(0.075,36.7),(0.1,25),(0.13,16.7),(0.16,12),(0.19,10),(0.25,10.5),(0.33,11.7),(0.6,13.3),(0.9,12.5),(1.29,11.7),(1.8,10.3),(2.31,9),(2.8,7.5),(3.3,6)]
vt14_rl = [(-0.11,16),(-0.08,28),(-0.05,47),(-0.02,70),(0,84),(0.02,74),(0.045,52),(0.07,32),(0.1,20),(0.13,15),(0.26,15),(0.6,16),(1.0,15),(1.5,13.5),(2.0,11.5),(2.5,9),(3.0,6),(3.3,3.3)]
vt14_av = [(-0.11,23.3),(-0.08,35),(-0.05,52),(-0.02,72),(0,84),(0.02,75),(0.045,56),(0.07,36),(0.1,21),(0.16,10.7),(0.25,11.5),(0.4,13),(0.6,14),(1.0,13),(1.5,11.5),(2.0,10),(2.5,8.5),(3.0,7),(3.3,6)]
vt14_cb = [(-0.11,16.7),(-0.08,30),(-0.05,49),(-0.02,71),(0,84),(0.02,74),(0.045,54),(0.07,34),(0.1,21),(0.165,12.7),(0.25,12.8),(0.4,13.5),(0.6,14),(1.0,13),(1.5,11.5),(2.0,10),(2.5,8.5),(3.0,7),(3.3,6)]

# ---------------------------------------------------------------- panel tables
PR_SERIES = [
    (pr01_exp, pr01_rl, pr01_av, pr01_cb), (pr02_exp, pr02_rl, pr02_av, pr02_cb),
    (pr03_exp, pr03_rl, pr03_av, pr03_cb), (pr04_exp, pr04_rl, pr04_av, pr04_cb),
    (pr05_exp, pr05_rl, pr05_av, pr05_cb), (pr06_exp, pr06_rl, pr06_av, pr06_cb),
    (pr07_exp, pr07_rl, pr07_av, pr07_cb), (pr08_exp, pr08_rl, pr08_av, pr08_cb),
    (pr09_exp, pr09_rl, pr09_av, pr09_cb), (pr10_exp, pr10_rl, pr10_av, pr10_cb),
    (pr11_exp, pr11_rl, pr11_av, pr11_cb), (pr12_exp, pr12_rl, pr12_av, pr12_cb),
    (pr13_exp, pr13_rl, pr13_av, pr13_cb), (pr14_exp, pr14_rl, pr14_av, pr14_cb),
]
VT_SERIES = [
    (vt01_exp, vt01_rl, vt01_av, vt01_cb), (vt02_exp, vt02_rl, vt02_av, vt02_cb),
    (vt03_exp, vt03_rl, vt03_av, vt03_cb), (vt04_exp, vt04_rl, vt04_av, vt04_cb),
    (vt05_exp, vt05_rl, vt05_av, vt05_cb), (vt06_exp, vt06_rl, vt06_av, vt06_cb),
    (vt07_exp, vt07_rl, vt07_av, vt07_cb), (vt08_exp, vt08_rl, vt08_av, vt08_cb),
    (vt09_exp, vt09_rl, vt09_av, vt09_cb), (vt10_exp, vt10_rl, vt10_av, vt10_cb),
    (vt11_exp, vt11_rl, vt11_av, vt11_cb), (vt12_exp, vt12_rl, vt12_av, vt12_cb),
    (vt13_exp, vt13_rl, vt13_av, vt13_cb), (vt14_exp, vt14_rl, vt14_av, vt14_cb),
]

C_RL = "#A83252"
C_AV = "#9A1A9A"
C_CB = "#6B6BFF"
L_RL = "#B3395B"
L_AV = "#981598"
L_CB = "#7373FF"
C_EXP_V = "#808080"


def xy(seq):
    return [a for a, _ in seq], [b for _, b in seq]


def style_axis(ax, show_labels, standoff, label=None, label_standoff=1):
    ax.axis_line_color = "black"
    ax.axis_line_width = 1.1
    ax.major_tick_line_color = "black"
    ax.major_tick_line_width = 1.1
    ax.major_tick_in = 0
    ax.major_tick_out = 5
    ax.minor_tick_line_color = None
    ax.major_label_text_font = FONT
    if show_labels:
        ax.major_label_text_color = "black"
        ax.major_label_text_font_size = "12.5px"
        ax.major_label_standoff = standoff
    else:
        # tick marks only: labels are not drawn at all
        ax.major_label_text_color = None
        ax.major_label_text_alpha = 0
        ax.major_label_text_font_size = "1px"
        ax.major_label_standoff = 0
    if label:
        ax.axis_label = label
        ax.axis_label_text_font = FONT
        ax.axis_label_text_font_size = "12.5px"
        ax.axis_label_text_font_style = "normal"
        ax.axis_label_text_color = "black"
        ax.axis_label_standoff = label_standoff


def style_title(p, standoff):
    p.title.align = "center"
    p.title.text_font = FONT
    p.title.text_font_size = "15px"
    p.title.text_font_style = "normal"
    p.title.text_color = "black"
    p.title.standoff = standoff


def pr_fig(i, col, last):
    exp, rl, av, cb = PR_SERIES[i]
    ci = pr_ci[i]
    ex, ey = xy(exp)
    lo = [v * (1 - ci) - 0.8 for v in ey]
    hi = [v * (1 + ci) + 0.8 for v in ey]
    m = max(hi + [v for s in (rl, av, cb) for _, v in s])
    p = figure(width=379 if col == 0 else 391, height=183 if last else 146,
               x_range=Range1d(15, 70), y_range=Range1d(-0.05 * m, 1.05 * m),
               output_backend="svg", toolbar_location=None, y_axis_location=None,
               min_border_left=10 if col == 0 else 11,
               min_border_right=11 if col == 0 else 22,
               min_border_top=35, min_border_bottom=45 if last else 8,
               title=pr_titles[i])
    p.outline_line_color = None
    p.grid.visible = False
    style_title(p, 14)
    ax = p.xaxis[0]
    ax.ticker = SingleIntervalTicker(interval=pr_ticks_step, num_minor_ticks=0)
    style_axis(ax, last, 8, "distance (Å)" if last else None, 3)
    rends = {}
    for key, seq, c, a in (("rl", rl, C_RL, 0.45), ("av", av, C_AV, 0.5), ("cb", cb, C_CB, 0.4)):
        x, y = xy(seq)
        rends[key] = p.varea(x=x, y1=0, y2=y, fill_color=c, fill_alpha=a)
        p.line(x, y, line_color=c, line_alpha=0.45, line_width=1)
    rends["ci"] = p.varea(x=ex, y1=lo, y2=hi, fill_color="#4d4d4d", fill_alpha=0.75)
    rends["exp"] = p.line(ex, ey, line_color="black", line_width=2.2)
    return p, rends


def vt_fig(i, col, last):
    exp, rl, av, cb = VT_SERIES[i]
    tx = [t for t, _ in exp]
    t0, t1 = min(tx), max(tx)
    sp = t1 - t0
    ally = [v for s in (exp, rl, av, cb) for _, v in s]
    y0, y1 = min(ally), max(ally)
    ys = y1 - y0
    p = figure(width=388 if col == 0 else 375, height=163 if last else 149,
               x_range=Range1d(t0 - 0.05 * sp, t1 + 0.05 * sp),
               y_range=Range1d(y0 - 0.05 * ys, y1 + 0.05 * ys),
               output_backend="svg", toolbar_location=None, y_axis_location=None,
               min_border_left=16 if col == 0 else 7,
               min_border_right=7 if col == 0 else 3,
               min_border_top=31, min_border_bottom=42 if last else 28,
               title=vt_titles[i])
    p.outline_line_color = None
    p.grid.visible = False
    style_title(p, 6)
    ax = p.xaxis[0]
    step = vt_tick_step[i]
    ax.ticker = SingleIntervalTicker(interval=step, num_minor_ticks=0)
    ax.formatter = PrintfTickFormatter(format="%.1f" if step < 1 else "%d")
    style_axis(ax, True, 7, "time (µs)" if last else None, 0)
    x, y = xy(exp)
    p.line(x, y, line_color=C_EXP_V, line_width=5, line_alpha=0.9,
           line_join="round", line_cap="round")
    for seq, c in ((rl, L_RL), (av, L_AV), (cb, L_CB)):
        x, y = xy(seq)
        p.line(x, y, line_color=c, line_width=2, line_alpha=0.9, line_join="round")
    return p


def header(text, width, height, cx, cy, size):
    p = figure(width=width, height=height, x_range=Range1d(0, width), y_range=Range1d(0, height),
               output_backend="svg", toolbar_location=None, x_axis_location=None,
               y_axis_location=None, min_border=0)
    p.outline_line_color = None
    p.grid.visible = False
    p.text(x=[cx], y=[height - cy], text=[text], text_align="center", text_baseline="middle",
           text_font=value(FONT), text_font_size=value(size), text_color="black")
    return p


left_rows = [header("R1 Predicted vs Experimental P(r)s", 770, 36, 381, 17, "12.5px")]
right_rows = [header("R1 Predicted vs Experimental V(t)s", 763, 38, 385, 17, "15px")]
first = None
for r in range(7):
    last = (r == 6)
    pa, ra = pr_fig(2 * r, 0, last)
    pb, _ = pr_fig(2 * r + 1, 1, last)
    if r == 0:
        first = (pa, ra)
    left_rows.append(row(pa, pb))
    right_rows.append(row(vt_fig(2 * r, 0, last), vt_fig(2 * r + 1, 1, last)))

p0, r0 = first
legend = Legend(items=[
    LegendItem(label="Exp", renderers=[r0["exp"]]),
    LegendItem(label="95% CI", renderers=[r0["ci"]]),
    LegendItem(label="Rotamer Library", renderers=[r0["rl"]]),
    LegendItem(label="Accessible Volume", renderers=[r0["av"]]),
    LegendItem(label="Combined", renderers=[r0["cb"]]),
], location=(190, 5))
legend.label_text_font = FONT
legend.label_text_font_size = "12.5px"
legend.label_text_color = "black"
legend.label_height = 14
legend.glyph_height = 10
legend.glyph_width = 24
legend.spacing = 4
legend.padding = 5
legend.margin = 0
legend.label_standoff = 11
legend.border_line_color = "#cccccc"
legend.background_fill_alpha = 0.8
p0.add_layout(legend)

layout = row(column(*left_rows), column(*right_rows))
open("out.html", "w").write(file_html(layout, INLINE))
